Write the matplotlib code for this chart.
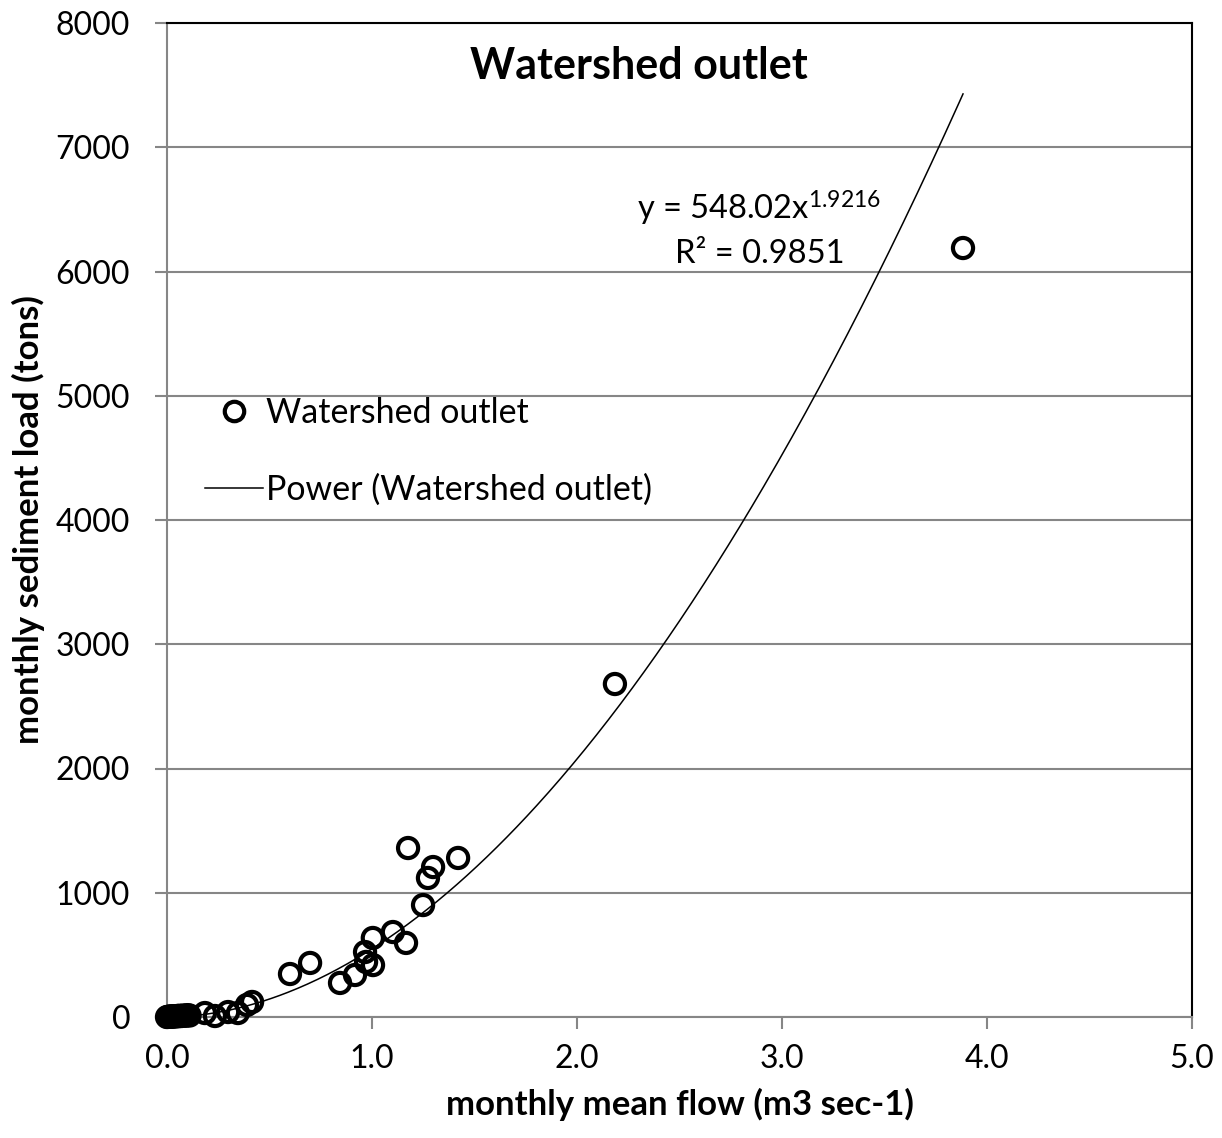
"""
Watershed outlet: monthly sediment load vs. monthly mean flow, with power fit.
"""
import matplotlib

matplotlib.use("Agg")
import matplotlib.pyplot as plt  # noqa: E402
import numpy as np  # noqa: E402
from matplotlib.lines import Line2D  # noqa: E402

plt.rcParams["font.family"] = ["Lato", "DejaVu Sans"]
plt.rcParams["mathtext.fontset"] = "custom"
plt.rcParams["mathtext.rm"] = "Lato"
plt.rcParams["mathtext.default"] = "regular"

# monthly mean flow (m3 sec-1)
flow = [
    0.0, 0.005, 0.01, 0.015, 0.02, 0.025, 0.03, 0.035, 0.04, 0.05,
    0.055, 0.06, 0.07, 0.08, 0.09, 0.10, 0.11,
    0.185, 0.234, 0.298, 0.346, 0.39, 0.415,
    0.600, 0.698, 0.844, 0.917, 0.966, 0.971, 1.005, 1.004,
    1.102, 1.166, 1.249, 1.273, 1.298, 1.176, 1.420,
    2.185, 3.883,
]
# monthly sediment load (tons)
load = [
    0, 1, 2, 3, 4, 3, 5, 6, 5, 8,
    6, 10, 8, 12, 10, 15, 12,
    32, 8, 40, 32, 97, 121,
    346, 435, 274, 338, 523, 443, 418, 636,
    684, 596, 901, 1119, 1207, 1360, 1280,
    2680, 6189,
]

# power trendline as reported on the chart
fit_a = 548.02
fit_b = 1.9216
fit_r2 = 0.9851

x_ticks = [0.0, 1.0, 2.0, 3.0, 4.0, 5.0]
y_ticks = [0, 1000, 2000, 3000, 4000, 5000, 6000, 7000, 8000]

GRID = "#868686"

fig = plt.figure(figsize=(12.22, 11.38), dpi=100)
ax = fig.add_axes((167 / 1222, 1 - 1017 / 1138, 1025 / 1222, 994 / 1138))

ax.set_xlim(0, 5)
ax.set_ylim(0, 8000)
ax.set_xticks(x_ticks)
ax.set_xticklabels([f"{v:.1f}" for v in x_ticks])
ax.set_yticks(y_ticks)
ax.set_yticklabels([str(v) for v in y_ticks])

ax.grid(axis="y", color=GRID, linewidth=1.5)
ax.set_axisbelow(True)
for side in ("left", "bottom"):
    ax.spines[side].set_color(GRID)
    ax.spines[side].set_linewidth(1.5)
for side in ("top", "right"):
    ax.spines[side].set_color("black")
    ax.spines[side].set_linewidth(1.5)
ax.tick_params(axis="both", direction="out", length=8.5, width=1.5,
               color=GRID, labelsize=23)
ax.tick_params(axis="y", pad=18)
ax.tick_params(axis="x", pad=11)

# trendline through the data range
xs = np.linspace(min(flow) + 0.005, max(flow), 400)
ax.plot(xs, fit_a * xs ** fit_b, color="black", linewidth=1.1, zorder=2)

ax.scatter(flow, load, s=210, facecolors="none", edgecolors="black",
           linewidths=3.0, zorder=3, clip_on=False)

ax.text(0.4605, 0.957, "Watershed outlet", transform=ax.transAxes,
        ha="center", va="center", fontsize=31, fontweight="bold")
ax.text(0.578, 0.813, f"y = {fit_a:.2f}x$^{{{fit_b}}}$", transform=ax.transAxes,
        ha="center", va="center", fontsize=23.5)
ax.text(0.578, 0.768, f"R² = {fit_r2}", transform=ax.transAxes,
        ha="center", va="center", fontsize=23.5)

ax.set_xlabel("monthly mean flow (m3 sec-1)", fontsize=25, fontweight="bold",
              labelpad=10)
ax.set_ylabel("monthly sediment load (tons)", fontsize=25, fontweight="bold",
              labelpad=8)

handles = [
    Line2D([], [], linestyle="none", marker="o", markersize=14,
           markerfacecolor="none", markeredgecolor="black", markeredgewidth=3.0),
    Line2D([], [], color="black", linewidth=1.1),
]
ax.legend(handles, ["Watershed outlet", "Power (Watershed outlet)"],
          loc="upper left", bbox_to_anchor=(205 / 1222, 1 - 397 / 1138),
          bbox_transform=fig.transFigure, frameon=False, fontsize=24.5,
          handlelength=1.7, handletextpad=0.1, labelspacing=1.3,
          borderpad=0, borderaxespad=0)

fig.savefig("out.png", dpi=100)
